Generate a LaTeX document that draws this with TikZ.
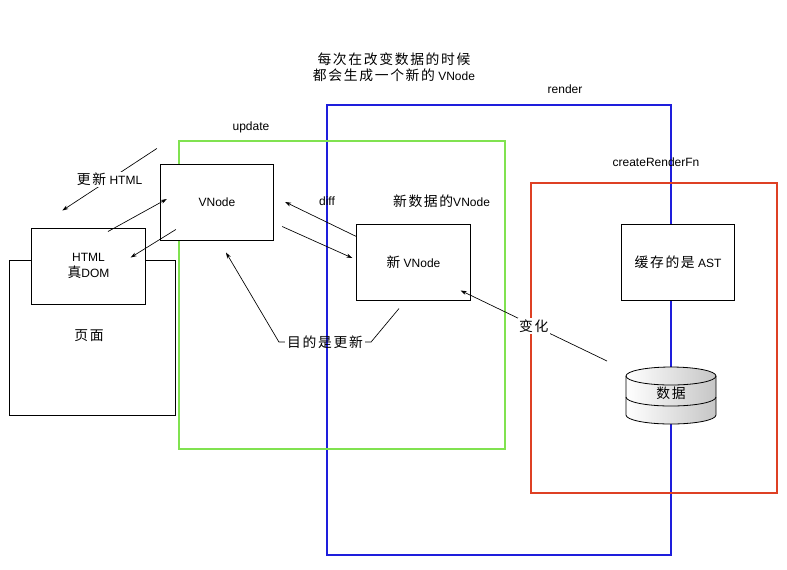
\documentclass[tikz,border=0pt]{standalone}
\usepackage{xcolor}
\usepackage{fontspec}
\setmainfont{Liberation Sans}
\newfontfamily\cjk[Scale=1.15,LetterSpace=12]{Noto Sans CJK SC}
\usetikzlibrary{arrows.meta}
\definecolor{renderblue}{RGB}{30,30,220}
\definecolor{updategreen}{RGB}{128,226,80}
\definecolor{fnred}{RGB}{222,64,36}
\newcommand{\boxw}{85pt}
\newcommand{\boxh}{57pt}

\begin{document}
\begin{tikzpicture}[x=0.75pt,y=-0.75pt,font=\fontsize{9}{12}\selectfont]
  \useasboundingbox (0,0) rectangle (787,569);

  % frames
  \begin{scope}[every node/.style={line width=1pt,inner sep=0pt}]
    \node[draw=black,line width=0.75pt,minimum width=124.5pt,minimum height=116.25pt] (page) at (92,337.5) {};
    \node[draw=renderblue,minimum width=258pt,minimum height=337.5pt] (render) at (499,330) {};
    \node[draw=updategreen,minimum width=244.5pt,minimum height=231pt] (update) at (342,295) {};
    \node[draw=fnred,minimum width=184.5pt,minimum height=232.5pt] (renderfn) at (654,338) {};
  \end{scope}

  % labels
  \node[align=center] (note) at (394,67) {{\cjk 每次在改变数据的时候}\\{\cjk 都会生成一个新的} VNode};
  \node (renderlbl) at (565,89) {render};
  \node (updatelbl) at (251,127) {update};
  \node (fnlbl) at (656,162) {createRenderFn};
  \node (difflbl) at (327,201) {diff};
  \node (newlbl) at (441.5,201) {{\cjk 新数据的}VNode};
  \node (pagelbl) at (89,336) {\cjk 页面};

  % boxes
  \begin{scope}[every node/.style={draw,fill=white,line width=0.75pt,minimum width=\boxw,minimum height=\boxh,align=center}]
    \node (html) at (88.5,266) {HTML\\{\cjk 真}DOM};
    \node (vnode) at (217,202) {VNode};
    \node (newv) at (413.5,262) {{\cjk 新} VNode};
    \node (ast) at (678,262) {{\cjk 缓存的是} AST};
  \end{scope}

  % data store
  \shade[left color=white,right color=gray!45,draw=black,line width=0.6pt]
    (626,376) -- (626,415) arc[start angle=180,end angle=360,x radius=33.75pt,y radius=6.75pt]
    -- (716,376) arc[start angle=0,end angle=180,x radius=33.75pt,y radius=6.75pt] -- cycle;
  \draw[line width=0.6pt] (626,376) arc[start angle=180,end angle=360,x radius=33.75pt,y radius=6.75pt];
  \draw[line width=0.6pt] (626,397) arc[start angle=180,end angle=360,x radius=33.75pt,y radius=6.75pt];
  \node (db) at (671,393) {\cjk 数据};

  % connectors
  \begin{scope}[>={Stealth[length=4.5pt,width=3pt]},
      every edge/.style={draw=black,line width=0.5pt}]
    \path [->] ([shift={(-3,-15)}]vnode.north west) edge node[fill=white,inner sep=1pt] {{\cjk 更新} HTML} ([shift={(31,-17)}]html.north west);
    \path [->] ([shift={(19.5,4)}]html.north) edge ([shift={(7,-3)}]vnode.west);
    \path [->] ([shift={(16,-11)}]vnode.south west) edge ([shift={(-15,30)}]html.north east);
    \path [->] ([shift={(0,13)}]newv.north west) edge ([shift={(11,0)}]vnode.east);
    \path [->] ([shift={(8,-14)}]vnode.south east) edge ([shift={(-4,-4)}]newv.west);
    \path [->] ([shift={(-64,-32)}]db.center) edge node[fill=white,inner sep=1pt] {\cjk 变化} ([shift={(-10,-10)}]newv.south east);

    \node[inner sep=1.5pt] (purpose) at (325,342) {\cjk 目的是更新};
    \draw [->,line width=0.5pt] (purpose.west) -- ++(-6,0) -- ([shift={(9,12)}]vnode.south);
    \draw [line width=0.5pt] (purpose.east) -- ++(6,0) -- ([shift={(-14.5,8)}]newv.south);
  \end{scope}
\end{tikzpicture}
\end{document}
